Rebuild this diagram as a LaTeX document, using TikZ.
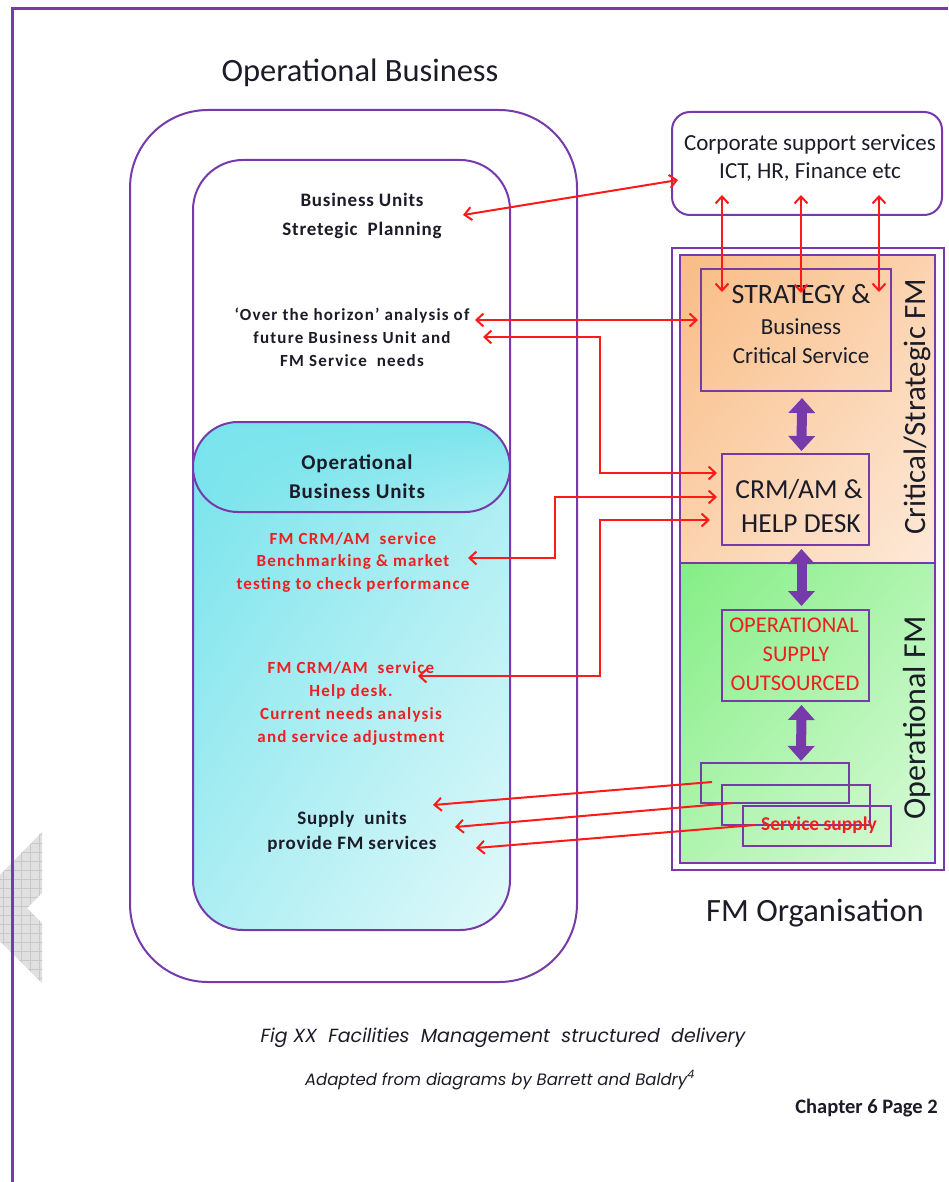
\documentclass[tikz,border=0pt]{standalone}
\usepackage{fontspec}
\setmainfont{Carlito}
\newfontfamily\spf{Carlito}[LetterSpace=4]
\newfontfamily\spg{Carlito}[LetterSpace=7]
\newfontfamily\capfont{Poppins}
\usetikzlibrary{arrows.meta,shapes.misc,shadings}
\definecolor{pur}{RGB}{118,58,170}
\definecolor{arrred}{RGB}{255,25,25}
\definecolor{tred}{RGB}{240,30,30}
\definecolor{tdark}{RGB}{28,28,40}
\definecolor{cyA}{RGB}{122,228,236}
\definecolor{cyB}{RGB}{226,249,250}
\definecolor{cyM}{RGB}{172,238,243}
\definecolor{orA}{RGB}{249,188,132}
\definecolor{orB}{RGB}{253,233,216}
\definecolor{orM}{RGB}{251,211,175}
\definecolor{grA}{RGB}{132,238,132}
\definecolor{grB}{RGB}{218,250,218}
\definecolor{grM}{RGB}{176,244,176}
\definecolor{chev}{RGB}{224,224,224}
\definecolor{chevline}{RGB}{200,200,200}
\begin{document}
\begin{tikzpicture}[x=1pt,y=-1pt,
  pline/.style={draw=pur,line width=2pt},
  redarr/.style={draw=arrred,line width=2pt,{Straight Barb[length=7pt,width=13pt]}-{Straight Barb[length=7pt,width=13pt]}},
  redarrl/.style={draw=arrred,line width=2pt,{Straight Barb[length=7pt,width=13pt]}-},
  purarr/.style={draw=pur,line width=10pt,{Triangle[length=15pt,width=26pt]}-{Triangle[length=15pt,width=26pt]}},
  dtext/.style={text=tdark,align=center,inner sep=0pt},
  rtext/.style={text=tred,align=center,inner sep=0pt},
  boxn/.style={draw=pur,line width=2pt,inner sep=0pt},
]
\useasboundingbox (0,0) rectangle (948,1182);
\fill[white] (0,0) rectangle (948,1182);

% grey chevron
\begin{scope}
\clip (42,832) -- (42,893) -- (27,908) -- (42,923) -- (42,983) -- (0,941) -- (0,875) -- cycle;
\fill[chev] (0,830) rectangle (45,985);
\foreach \gx in {3,12,...,45} {\draw[chevline,line width=0.7pt] (\gx,830) -- (\gx,985);}
\foreach \gy in {834,843,...,985} {\draw[chevline,line width=0.7pt] (0,\gy) -- (45,\gy);}
\end{scope}

% page frame
\draw[pur,line width=3pt] (12,1182) -- (12,9) -- (948,9);

% Operational business
\node[dtext,font=\fontsize{32.5}{36}\selectfont] (obtitle) at (360,73) {Operational Business};
\node[boxn,rounded corners=78pt,minimum width=447pt,minimum height=872pt] (outerob) at (353.5,546) {};
\begin{scope}
\clip[rounded corners=50pt] (193,160) rectangle (510,930);
\shade[upper left=cyA,lower right=cyB,upper right=cyM,lower left=cyM] (193,467) rectangle (510,930);
\end{scope}
\node[boxn,rounded corners=50pt,minimum width=317pt,minimum height=770pt] (innerob) at (351.5,545) {};
\node[rounded rectangle,draw=pur,line width=2pt,minimum width=317pt,minimum height=90pt,
  upper left=cyA,lower right=cyM,upper right=cyA,lower left=cyA,inner sep=0pt] (obu) at (351.5,467) {};
\node[dtext,font=\spf\bfseries\fontsize{21}{29}\selectfont] (obut) at (357,477) {Operational\\Business Units};

\node[dtext,font=\spf\bfseries\fontsize{19}{29}\selectfont] (bsp) at (362,216) {Business Units\\Stretegic\ \ Planning};
\node[dtext,font=\spg\bfseries\fontsize{17}{23}\selectfont] (oth) at (352,337) {‘Over the horizon’ analysis of\\future Business Unit and\\FM Service\ \ needs};
\node[rtext,font=\spg\bfseries\fontsize{17}{22.5}\selectfont] (bench) at (353,562) {FM CRM/AM\ \ service\\Benchmarking \& market\\testing to check performance};
\node[rtext,font=\spg\bfseries\fontsize{17}{23}\selectfont] (help) at (351,703) {FM CRM/AM\ \ service\\Help desk.\\Current needs analysis\\and service adjustment};
\node[dtext,font=\spf\bfseries\fontsize{19}{25}\selectfont] (supply) at (352,832) {Supply\ \ units\\provide FM services};

% corporate
\node[boxn,rounded corners=18pt,minimum width=270pt,minimum height=103pt] (corp) at (807,163.5) {};
\node[dtext,font=\fontsize{23}{28}\selectfont] (corpt) at (810,158) {Corporate support services\\ICT, HR, Finance etc};

% FM organisation frame
\node[boxn,minimum width=272pt,minimum height=622pt] (fmout) at (808,559) {};
\shade[upper left=orA,lower right=orB,upper right=orM,lower left=orM] (680,255) rectangle (935,563);
\draw[pline] (680,255) rectangle (935,563);
\shade[upper left=grA,lower right=grB,upper right=grM,lower left=grM] (680,563) rectangle (935,863);
\draw[pline] (680,563) rectangle (935,863);

\node[boxn,minimum width=190pt,minimum height=122pt] (strat) at (796,330) {};
\node[text=tdark,anchor=base,inner sep=0pt,font=\fontsize{28}{32}\selectfont] (st1) at (801,303) {STRATEGY \&};
\node[text=tdark,anchor=base,inner sep=0pt,font=\fontsize{23}{28}\selectfont] (st2) at (801,334) {Business};
\node[text=tdark,anchor=base,inner sep=0pt,font=\fontsize{23}{28}\selectfont] (st3) at (801,363) {Critical Service};

\node[boxn,minimum width=147pt,minimum height=91pt] (crm) at (795.5,499.5) {};
\node[text=tdark,anchor=base,inner sep=0pt,font=\fontsize{27.5}{32}\selectfont] (cr1) at (799,498) {CRM/AM \&};
\node[text=tdark,anchor=base,inner sep=0pt,font=\fontsize{27.5}{32}\selectfont] (cr2) at (801,532) {HELP DESK};

\node[boxn,minimum width=147pt,minimum height=91pt] (ops) at (795.5,655.5) {};
\node[text=tred,anchor=base,inner sep=0pt,font=\fontsize{22.5}{28}\selectfont] (op1) at (794,632) {OPERATIONAL};
\node[text=tred,anchor=base,inner sep=0pt,font=\fontsize{22.5}{28}\selectfont] (op2) at (796,661) {SUPPLY};
\node[text=tred,anchor=base,inner sep=0pt,font=\fontsize{22.5}{28}\selectfont] (op3) at (795,690) {OUTSOURCED};

\node[boxn,minimum width=148pt,minimum height=40pt] (ss1) at (775,783) {};
\node[boxn,minimum width=148pt,minimum height=40pt] (ss2) at (796,805) {};
\node[boxn,minimum width=148pt,minimum height=40pt] (ss3) at (817,826) {};
\node[text=tred,inner sep=0pt,font=\bfseries\fontsize{19.5}{24}\selectfont] (sst) at (819,825) {Service supply};

\node[text=tdark,rotate=90,inner sep=0pt,font=\fontsize{31}{34}\selectfont] (critl) at (917,407) {Critical/Strategic FM};
\node[text=tdark,rotate=90,inner sep=0pt,font=\fontsize{32}{34}\selectfont] (opfml) at (917,718) {Operational FM};

\node[text=tdark,inner sep=0pt,font=\fontsize{32.5}{36}\selectfont] (fmorg) at (815,913) {FM Organisation};

% purple double arrows
\draw[purarr] ([xshift=6pt,yshift=-6pt]strat.south) -- ([xshift=6pt,yshift=2pt]crm.north);
\draw[purarr] ([xshift=6pt,yshift=-3pt]crm.south) -- ([xshift=6pt,yshift=3pt]ops.north);
\draw[purarr] ([xshift=6pt,yshift=-3pt]ops.south) -- ([xshift=26pt,yshift=1pt]ss1.north);

% red arrows
\coordinate (bspR) at (463,215);
\coordinate (corpL) at (678,180);
\draw[redarr] (bspR) -- (corpL);
\draw[redarr] (722,195) -- (722,292);
\draw[redarr] (801,195) -- (801,293);
\draw[redarr] (879,195) -- (879,292);
\coordinate (othR1) at (475,320);
\coordinate (stratL) at (698,320);
\draw[redarr] (othR1) -- (stratL);
\coordinate (othR2) at (483,337);
\coordinate (crmL1) at (717,473);
\draw[redarr] (othR2) -- (600,337) -- (600,473) -- (crmL1);
\coordinate (benchR) at (468,558);
\coordinate (crmL2) at (717,497);
\draw[redarr] (benchR) -- (555,558) -- (555,497) -- (crmL2);
\coordinate (helpR) at (418,676);
\coordinate (crmL3) at (710,520);
\draw[redarr] (helpR) -- (600,676) -- (600,520) -- (crmL3);
\coordinate (sa) at (712,782);
\coordinate (sb) at (733,803);
\coordinate (sc) at (755,825);
\coordinate (ua) at (433,805);
\coordinate (ub) at (455,827);
\coordinate (uc) at (476,848);
\draw[redarrl] (ua) -- (sa);
\draw[redarrl] (ub) -- (sb);
\draw[redarrl] (uc) -- (sc);

% captions
\node[text=tdark,inner sep=0pt,font=\capfont\itshape\fontsize{19}{22}\selectfont] (cap1) at (503,1038) {Fig XX\ \ Facilities\ \ Management\ \ structured\ \ delivery};
\node[text=tdark,inner sep=0pt,font=\capfont\itshape\fontsize{16.5}{20}\selectfont] (cap2) at (500,1080) {Adapted from diagrams by Barrett and Baldry\textsuperscript{4}};
\node[text=tdark,inner sep=0pt,anchor=east,font=\bfseries\fontsize{20.5}{24}\selectfont] (pg) at (938,1108) {Chapter 6 Page 2};
\end{tikzpicture}
\end{document}
